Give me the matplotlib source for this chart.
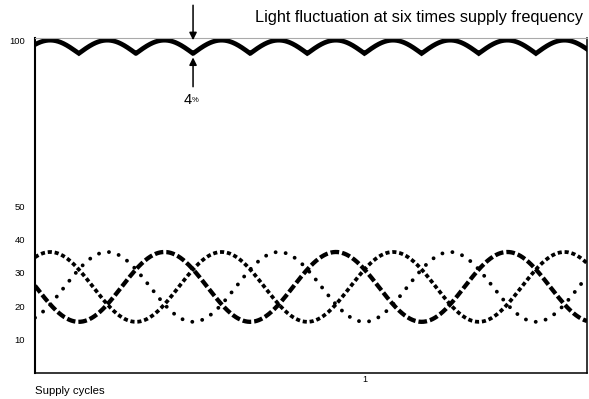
#!/usr/bin/env python3
"""
Light output of three lamp phases and their combined output over supply cycles.
"""

import numpy as np
import matplotlib
matplotlib.use('Agg')
import matplotlib.pyplot as plt

plt.rcParams['font.family'] = ['Liberation Sans', 'DejaVu Sans']

# Per-phase light output (% of total)
phase_names = ['phase 1', 'phase 2', 'phase 3']
phase_trough = [1 / 6, 1 / 3, 0.0]        # supply cycles at which each phase bottoms out
phase_min = [15.3, 15.3, 15.3]
phase_max = [36.3, 36.3, 36.3]
phase_cycles_per_supply = 2                # each lamp flickers at twice supply frequency

# Combined light output
total_max = 100.0
ripple_pct = 4.0
ripple_per_supply = 6                      # six times supply frequency

y_ticks = [10, 20, 30, 40, 50, 100]
x_ticks = [1]
x_range = (0.039, 1.649)

fig = plt.figure(figsize=(5.89, 3.99), dpi=100)
ax = fig.add_axes([0.0594, 0.0659, 0.9372, 0.8401])

t = np.linspace(x_range[0], x_range[1], 2000)

styles = [
    dict(linestyle=(0, (2.0, 0.7)), linewidth=3.1, dash_capstyle='butt'),
    dict(linestyle=(0, (1.1, 0.75)), linewidth=2.7, dash_capstyle='butt'),
    dict(linestyle=(0, (0.01, 2.6)), linewidth=2.8, dash_capstyle='round'),
]

for name, tr, lo, hi, st in zip(phase_names, phase_trough, phase_min, phase_max, styles):
    mean = (hi + lo) / 2
    amp = (hi - lo) / 2
    y = mean - amp * np.cos(2 * np.pi * phase_cycles_per_supply * (t - tr))
    ax.plot(t, y, color='black', label=name, **st)

# combined output: cusps at each phase trough, rounded crests
total = (total_max - ripple_pct
         + ripple_pct * np.abs(np.sin(np.pi * ripple_per_supply * t)))
ax.plot(t, total, color='black', linewidth=3.4, solid_joinstyle='miter')

ax.set_xlim(*x_range)
ax.set_ylim(0, 100.8)

ax.set_yticks(y_ticks)
ax.set_yticklabels([str(v) for v in y_ticks])
ax.set_xticks(x_ticks)
ax.set_xticklabels(['1'])
ax.tick_params(axis='y', length=0, pad=7, labelsize=6.8)
ax.tick_params(axis='x', length=0, pad=2, labelsize=6.5)

for side in ['left', 'bottom', 'right']:
    ax.spines[side].set_color('black')
ax.spines['left'].set_linewidth(1.5)
ax.spines['bottom'].set_linewidth(1.1)
ax.spines['right'].set_linewidth(1.1)
ax.spines['top'].set_color('#aaaaaa')
ax.spines['top'].set_linewidth(0.8)

# ripple depth marker at the third cusp
x_cusp = 3 / ripple_per_supply
ax.annotate('', xy=(x_cusp, total_max), xytext=(x_cusp, 110.5),
            annotation_clip=False,
            arrowprops=dict(arrowstyle='-|>', color='black', lw=1.1,
                            mutation_scale=11, shrinkA=0, shrinkB=0))
ax.annotate('', xy=(x_cusp, total_max - ripple_pct - 1.2), xytext=(x_cusp, 86.0),
            annotation_clip=False,
            arrowprops=dict(arrowstyle='-|>', color='black', lw=1.1,
                            mutation_scale=11, shrinkA=0, shrinkB=0))
ax.text(x_cusp - 0.004, 82.0, '4', ha='right', va='center', fontsize=10.5)
ax.text(x_cusp - 0.003, 81.8, '%', ha='left', va='center', fontsize=5.5)

fig.text(0.99, 0.955, 'Light fluctuation at six times supply frequency',
         ha='right', va='center', fontsize=11.7)
fig.text(0.0594, 0.02, 'Supply cycles', ha='left', va='center', fontsize=8.2)

plt.savefig('out.png', dpi=100, facecolor='white')
